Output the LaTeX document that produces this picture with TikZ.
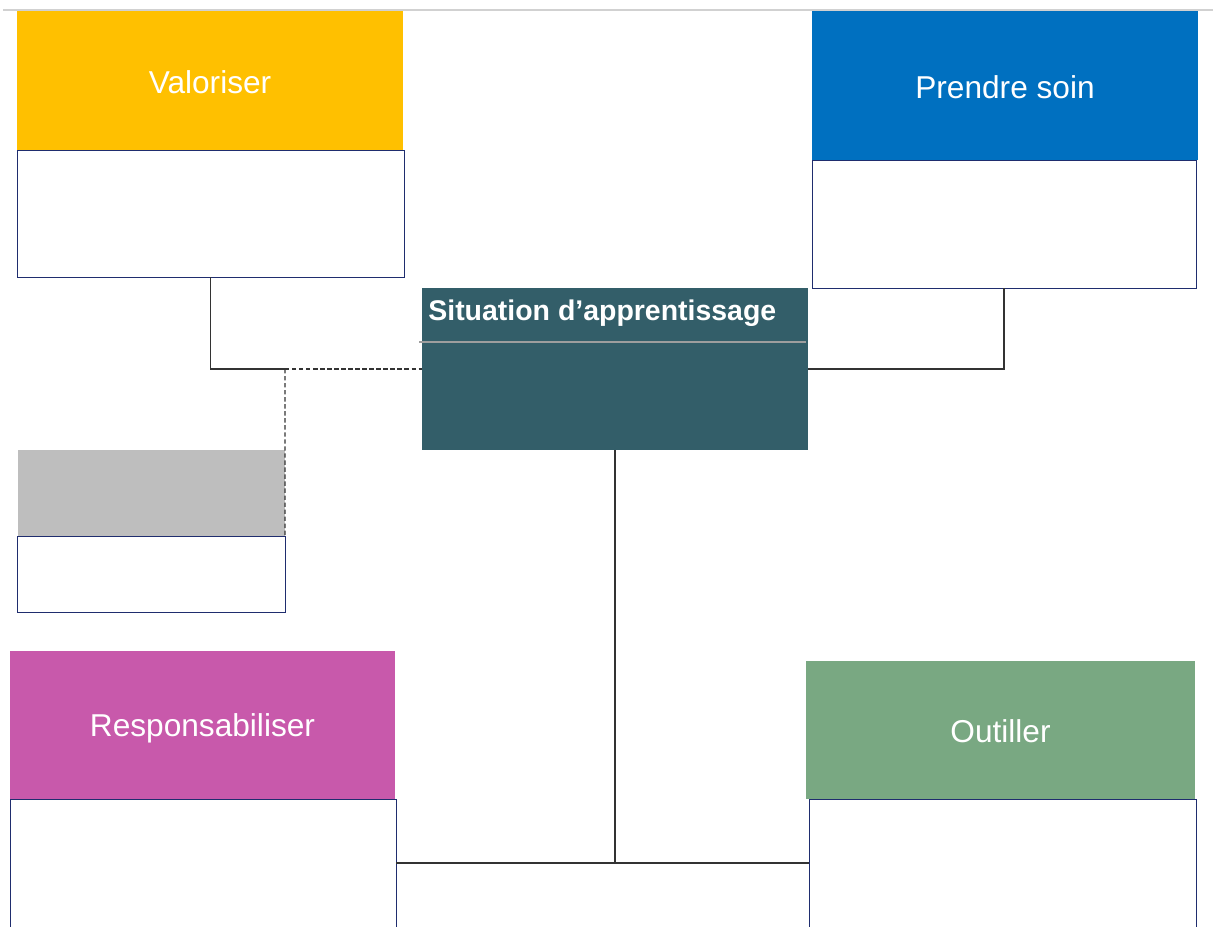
\documentclass[tikz,border=0pt]{standalone}
\usepackage{fontspec}
\setmainfont{Liberation Sans}
\usetikzlibrary{fit}
\definecolor{cyel}{HTML}{FFC000}
\definecolor{cblu}{HTML}{0070C0}
\definecolor{cteal}{HTML}{335E69}
\definecolor{cgry}{HTML}{BEBEBE}
\definecolor{cmag}{HTML}{C859AB}
\definecolor{cgrn}{HTML}{79A882}
\definecolor{cnavy}{HTML}{1F2D6E}
\definecolor{cline}{HTML}{333333}
\begin{document}
\begin{tikzpicture}[x=0.02cm,y=-0.02cm,
  fillbox/.style={inner sep=0pt,outer sep=0pt,draw=none},
  whitebox/.style={inner sep=0pt,outer sep=0pt,draw=cnavy,line width=0.5pt,fill=white},
  title/.style={text=white,font=\fontsize{18}{20}\selectfont,inner sep=0pt},
  conn/.style={draw=cline,line width=0.7pt},
  dconn/.style={draw=cline,line width=0.7pt,dash pattern=on 2.5pt off 1.5pt}]
\useasboundingbox (0,0) rectangle (1213,926);
\clip (0,0) rectangle (1213,926);
\fill[white] (0,0) rectangle (1213,926);
\draw[draw=black!18,line width=1.2pt] (3,10) -- (1213,10);
% Valoriser
\node[fillbox,fill=cyel,fit={(17,11)(403,150)}] (val) {};
\node[title] (valt) at ([yshift=-0.04cm]val.center) {Valoriser};
\node[whitebox,fit={(17,150)(404,277)}] (valw) {};
% Prendre soin
\node[fillbox,fill=cblu,fit={(812,11)(1198,160)}] (ps) {};
\node[title] (pst) at ([yshift=-0.04cm]ps.center) {Prendre soin};
\node[whitebox,fit={(812,160)(1196,288)}] (psw) {};
% central
\node[fillbox,fill=cteal,fit={(422,288)(808,450)}] (cen) {};
\node[anchor=west,text=white,font=\bfseries\fontsize{16.2}{18}\selectfont,inner sep=0pt] (cent) at (428,313) {Situation d’apprentissage};
\coordinate (gl1) at (419,342);
\coordinate (gl2) at (806,342);
\draw[draw=black!38,line width=1.1pt] (gl1) -- (gl2);
% gray
\node[fillbox,fill=cgry,fit={(18,450)(285,536)}] (gr) {};
\node[whitebox,fit={(17,536)(285,612)}] (grw) {};
% Responsabiliser
\node[fillbox,fill=cmag,fit={(10,651)(395,799)}] (res) {};
\node[title] (rest) at ([yshift=-0.06cm]res.center) {Responsabiliser};
\node[whitebox,fit={(10,799)(396,940)}] (resw) {};
% Outiller
\node[fillbox,fill=cgrn,fit={(806,661)(1195,799)}] (out) {};
\node[title] (outt) at ([yshift=-0.02cm]out.center) {Outiller};
\node[whitebox,fit={(809,799)(1196,940)}] (outw) {};
% connectors
\coordinate (j1) at (285,369);
\coordinate (jb) at (616,863);
\draw[conn] (valw.south) |- (j1);
\draw[dconn] (j1) -- (cen.west);
\draw[dconn] (j1) -- (gr.south east);
\draw[conn] (cen.east) -| (psw.south);
\draw[conn] (cen.south) -- (cen.south |- jb);
\draw[conn] (resw.east |- jb) -- (outw.west |- jb);
\end{tikzpicture}
\end{document}
